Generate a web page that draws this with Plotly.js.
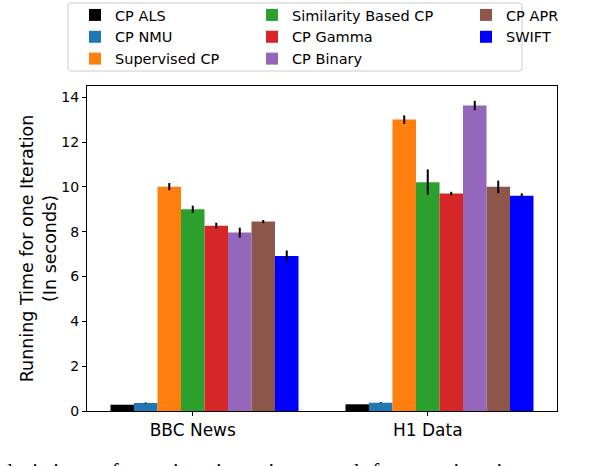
<!DOCTYPE html>
<html>
<head>
<meta charset="utf-8">
<script src="https://cdn.plot.ly/plotly-3.0.1.min.js"></script>
<style>html,body{margin:0;padding:0;background:#fff;}#chart{width:594px;height:466px;}</style>
</head>
<body>
<div id="chart"></div>
<script>
// ---- data ----
const categories = ['BBC News', 'H1 Data'];
const methods = ['CP ALS', 'CP NMU', 'Supervised CP', 'Similarity Based CP', 'CP Gamma', 'CP Binary', 'CP APR', 'SWIFT'];
const cpAls = [0.28, 0.30];
const cpAlsErr = [0.0, 0.0];
const cpNmu = [0.36, 0.37];
const cpNmuErr = [0.02, 0.02];
const supervisedCp = [10.01, 13.0];
const supervisedCpErr = [0.16, 0.19];
const similarityCp = [9.0, 10.21];
const similarityCpErr = [0.16, 0.57];
const cpGamma = [8.27, 9.70];
const cpGammaErr = [0.13, 0.08];
const cpBinary = [7.96, 13.63];
const cpBinaryErr = [0.22, 0.21];
const cpApr = [8.45, 10.0];
const cpAprErr = [0.07, 0.28];
const swift = [6.92, 9.6];
const swiftErr = [0.24, 0.11];
const yTickVals = [0, 2, 4, 6, 8, 10, 12, 14];
const captionWords = ['deviation', 'of', 'running', 'time', 'in', 'seconds', 'for', 'one', 'iteration'];

const seriesValues = [cpAls, cpNmu, supervisedCp, similarityCp, cpGamma, cpBinary, cpApr, swift];
const seriesErrors = [cpAlsErr, cpNmuErr, supervisedCpErr, similarityCpErr, cpGammaErr, cpBinaryErr, cpAprErr, swiftErr];

// ---- styles ----
const colors = ['#000000', '#1f77b4', '#ff7f0e', '#2ca02c', '#d62728', '#9467bd', '#8c564b', '#0000ff'];
const legendOf = ['legend', 'legend', 'legend', 'legend2', 'legend2', 'legend2', 'legend3', 'legend3'];
const barWidth = 0.1;

const traces = methods.map((name, i) => ({
  type: 'bar',
  name: name,
  x: categories,
  y: seriesValues[i],
  width: barWidth,
  offset: (i - 3.5) * barWidth,
  marker: {color: colors[i], line: {width: 0}},
  error_y: {type: 'data', array: seriesErrors[i], visible: true, color: '#000000', thickness: 2, width: 0},
  legend: legendOf[i],
  legendgroup: 'g' + i,
  hoverinfo: 'skip'
}));

const FONT = 'DejaVu Sans, sans-serif';
const legendBase = {
  orientation: 'v', xanchor: 'left', yanchor: 'top',
  bgcolor: 'rgba(0,0,0,0)', borderwidth: 0,
  font: {family: FONT, size: 14.5, color: '#000'},
  tracegroupgap: 0, itemclick: false
};

// plot area geometry (px) used to place the legend frame in paper units
const PW = 470, PH = 325;
const fx = px => (px - 87) / PW;
const fy = py => (411 - py) / PH;
const bx0 = fx(68), bx1 = fx(522), by0 = fy(71), by1 = fy(3);
const rx = 3 / PW, ry = 3 / PH;
const framePath = `M${bx0 + rx},${by1} L${bx1 - rx},${by1} Q${bx1},${by1} ${bx1},${by1 - ry} ` +
  `L${bx1},${by0 + ry} Q${bx1},${by0} ${bx1 - rx},${by0} L${bx0 + rx},${by0} Q${bx0},${by0} ${bx0},${by0 + ry} ` +
  `L${bx0},${by1 - ry} Q${bx0},${by1} ${bx0 + rx},${by1} Z`;

const gaps = [4, 3, 2, 4, 3, 1, 2, 3];
let caption = captionWords[0];
for (let i = 1; i < captionWords.length; i++) {
  caption += '\u00A0'.repeat(gaps[i - 1] - 1) + ' ' + captionWords[i];
}

const layout = {
  width: 594, height: 466,
  margin: {l: 87, r: 37, t: 86, b: 55, pad: 0, autoexpand: false},
  paper_bgcolor: '#ffffff', plot_bgcolor: '#ffffff',
  font: {family: FONT, color: '#000'},
  barmode: 'overlay',
  showlegend: true,
  xaxis: {
    type: 'category', range: [-0.45, 1.55],
    showline: true, linecolor: '#000', linewidth: 1, mirror: true,
    ticks: 'outside', ticklen: 4, tickcolor: '#000',
    showgrid: false, zeroline: false, automargin: false,
    tickfont: {family: FONT, size: 17, color: '#000'}
  },
  yaxis: {
    range: [0, 14.5], tickvals: yTickVals, ticktext: yTickVals.map(String),
    showline: true, linecolor: '#000', linewidth: 1, mirror: true,
    ticks: 'outside', ticklen: 4, tickcolor: '#000',
    showgrid: false, zeroline: false, automargin: false,
    tickfont: {family: FONT, size: 14, color: '#000'},
    title: {text: 'Running Time for one Iteration<br>(In seconds)', font: {family: FONT, size: 17.5, color: '#000'}, standoff: 0}
  },
  legend: Object.assign({}, legendBase, {x: fx(75), y: fy(-1)}),
  legend2: Object.assign({}, legendBase, {x: fx(252), y: fy(-1)}),
  legend3: Object.assign({}, legendBase, {x: fx(466), y: fy(-1)}),
  shapes: [{
    type: 'path', xref: 'paper', yref: 'paper', path: framePath,
    line: {color: '#cccccc', width: 1}, fillcolor: 'rgba(0,0,0,0)', layer: 'below'
  }],
  annotations: [{
    xref: 'paper', yref: 'paper', x: fx(0), y: fy(457),
    xanchor: 'left', yanchor: 'top', showarrow: false,
    text: caption,
    font: {family: 'Liberation Serif, Times New Roman, serif', size: 21, color: '#000'}
  }]
};

Plotly.newPlot('chart', traces, layout, {staticPlot: true, displayModeBar: false});
</script>
</body>
</html>
